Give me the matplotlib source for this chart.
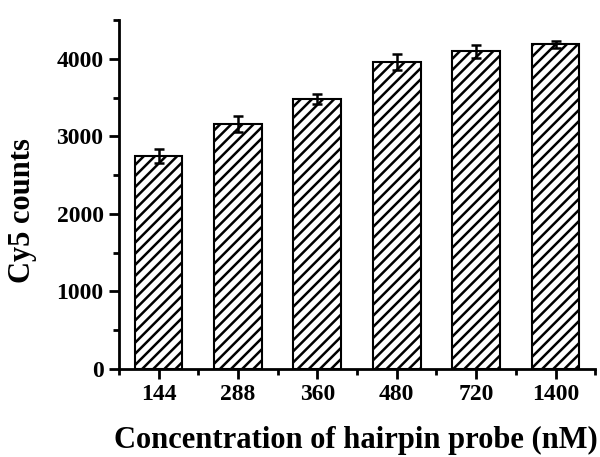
import numpy as np
import matplotlib
matplotlib.use("Agg")
from matplotlib import pyplot as plt
from matplotlib.ticker import MultipleLocator

concentrations = ["144", "288", "360", "480", "720", "1400"]
cy5_counts = [2750, 3160, 3480, 3960, 4100, 4190]
cy5_err = [90, 100, 60, 105, 85, 45]

plt.rcParams['font.family'] = ['Liberation Serif', 'DejaVu Serif']
plt.rcParams['font.weight'] = 'bold'
plt.rcParams['hatch.linewidth'] = 1.8

fig = plt.figure(figsize=(6.0, 4.57), dpi=100)
ax = fig.add_axes([0.198, 0.193, 0.794, 0.763])

x = np.arange(len(concentrations))
ax.bar(x, cy5_counts, width=0.6, color='white', edgecolor='black',
       linewidth=1.5, hatch='///')
ax.errorbar(x, cy5_counts, yerr=cy5_err, fmt='none', ecolor='black',
            elinewidth=1.8, capsize=3.5, capthick=1.8)

ax.set_xlim(-0.5, 5.5)
ax.set_ylim(0, 4500)
ax.set_xticks(x)
ax.set_xticklabels(concentrations)
ax.xaxis.set_minor_locator(MultipleLocator(1.0, offset=0.5))
ax.yaxis.set_major_locator(MultipleLocator(1000))
ax.yaxis.set_minor_locator(MultipleLocator(500))

for side in ['top', 'right']:
    ax.spines[side].set_visible(False)
for side in ['left', 'bottom']:
    ax.spines[side].set_linewidth(2)

ax.tick_params(which='major', direction='out', length=7, width=2,
               labelsize=17, pad=4)
ax.tick_params(which='minor', direction='out', length=4, width=2)
for lab in ax.get_xticklabels() + ax.get_yticklabels():
    lab.set_fontweight('bold')

# axis titles placed on the figure
fig.text(0.037, 0.54, "Cy5 counts", fontsize=22, fontweight='bold',
         rotation=90, ha='center', va='center')
fig.text(0.593, 0.02, "Concentration of hairpin probe (nM)", fontsize=22,
         fontweight='bold', ha='center', va='baseline')

fig.savefig("out.png", dpi=100)
